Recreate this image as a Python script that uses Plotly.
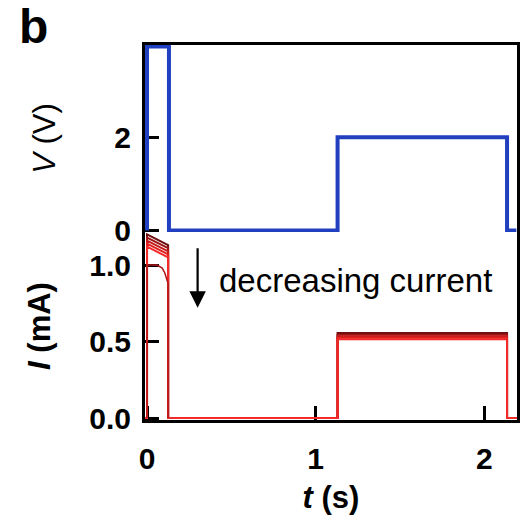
import plotly.graph_objects as go

# ---- data ----
# voltage waveform (s, V)
t_volt = [0.0, 0.0, 0.13, 0.13, 1.13, 1.13, 2.135, 2.135, 2.19]
v_volt = [0.0, 3.95, 3.95, 0.0, 0.0, 2.0, 2.0, 0.0, 0.0]

# current traces: step times (s)
t_steps = [-0.02, 0.0, 0.0, 0.125, 0.125, 1.13, 1.13, 2.135, 2.135, 2.2]
# first-pulse current at start and end of pulse (mA), one per trace
i_first_start = [1.20, 1.18, 1.16, 1.14, 1.12]
i_first_end = [1.13, 1.11, 1.09, 1.07, 1.05]
# second-pulse (read) current (mA)
i_second = [0.555, 0.545, 0.535, 0.525, 0.515]
trace_colors = ["#6e0f0f", "#9c1414", "#c41c1c", "#e21f1f", "#f22a2a"]

# the lowest trace that decays during the first pulse
t_decay = [0.0, 0.0, 0.06, 0.09, 0.105, 0.118, 0.125, 0.125]
i_decay = [0.0, 1.0, 1.0, 0.98, 0.95, 0.91, 0.88, 0.0]

blue = "#2140c0"

fig = go.Figure()

# voltage panel
fig.add_trace(go.Scatter(x=t_volt, y=v_volt, mode="lines", xaxis="x2", yaxis="y2",
                         line=dict(color=blue, width=4), showlegend=False,
                         hoverinfo="skip"))

# current panel
for s, e, r, c in zip(i_first_start, i_first_end, i_second, trace_colors):
    ys = [0.0, 0.0, s, e, 0.0, 0.0, r, r, 0.0, 0.0]
    fig.add_trace(go.Scatter(x=t_steps, y=ys, mode="lines", xaxis="x", yaxis="y",
                             line=dict(color=c, width=2), showlegend=False,
                             hoverinfo="skip"))
fig.add_trace(go.Scatter(x=t_decay, y=i_decay, mode="lines", xaxis="x", yaxis="y",
                         line=dict(color="#b01818", width=1.5), showlegend=False,
                         hoverinfo="skip"))

xrange = [-0.012, 2.194]
tickfont = dict(family="Liberation Sans, Arial", size=30, color="black", weight="bold")
split = 188 / 375

axis_common = dict(showline=True, linecolor="black", linewidth=3, layer="below traces",
                   showgrid=False, zeroline=False, ticks="inside", ticklen=14,
                   tickwidth=3, tickcolor="black", tickfont=tickfont)

fig.update_layout(
    width=526, height=522,
    margin=dict(l=145, r=6, t=45, b=102),
    paper_bgcolor="white", plot_bgcolor="white",
    xaxis=dict(axis_common, domain=[0, 1], range=xrange, anchor="y",
               tickvals=[0, 1, 2], ticktext=["0", "1", "2"], ticklabelstandoff=10,
               title=dict(text="<b><i>t</i> (s)</b>", standoff=13,
                          font=dict(family="Liberation Sans, Arial", size=31, color="black"))),
    yaxis=dict(axis_common, domain=[0, split], range=[-0.013, 1.216], anchor="x",
               mirror=True, tickvals=[0, 0.5, 1.0], ticktext=["0.0", "0.5", "1.0"],
               ticklabelstandoff=5,
               title=dict(text="<b><i>I</i> (mA)</b>", standoff=30,
                          font=dict(family="Liberation Sans, Arial", size=31, color="black"))),
    xaxis2=dict(axis_common, domain=[0, 1], range=xrange, anchor="y2", side="top",
                ticks="", showticklabels=False, matches="x"),
    yaxis2=dict(axis_common, domain=[split, 1], range=[-0.03, 3.98], anchor="x2",
                mirror=True, tickvals=[0, 2], ticktext=["0", "2"], ticklabelstandoff=5,
                title=dict(text="<i>V</i> (V)", standoff=50,
                           font=dict(family="Liberation Sans, Arial", size=31, color="black"))),
    annotations=[
        dict(text="<b>b</b>", xref="paper", yref="paper", x=-0.299, y=1.048,
             xanchor="center", yanchor="middle", showarrow=False,
             font=dict(family="Liberation Sans, Arial", size=48, color="black")),
        dict(text="decreasing current", xref="x", yref="y", x=1.235, y=0.90,
             xanchor="center", yanchor="middle", showarrow=False,
             font=dict(family="Liberation Sans, Arial", size=33, color="black")),
        dict(text="", xref="x", yref="y", x=0.30, y=0.72, axref="x", ayref="y",
             ax=0.30, ay=1.12, showarrow=True, arrowhead=2, arrowsize=1.5,
             arrowwidth=2.2, arrowcolor="black"),
    ],
)

fig.write_html("out.html", post_script="document.body.style.margin='0';",
               config={"displayModeBar": False})
